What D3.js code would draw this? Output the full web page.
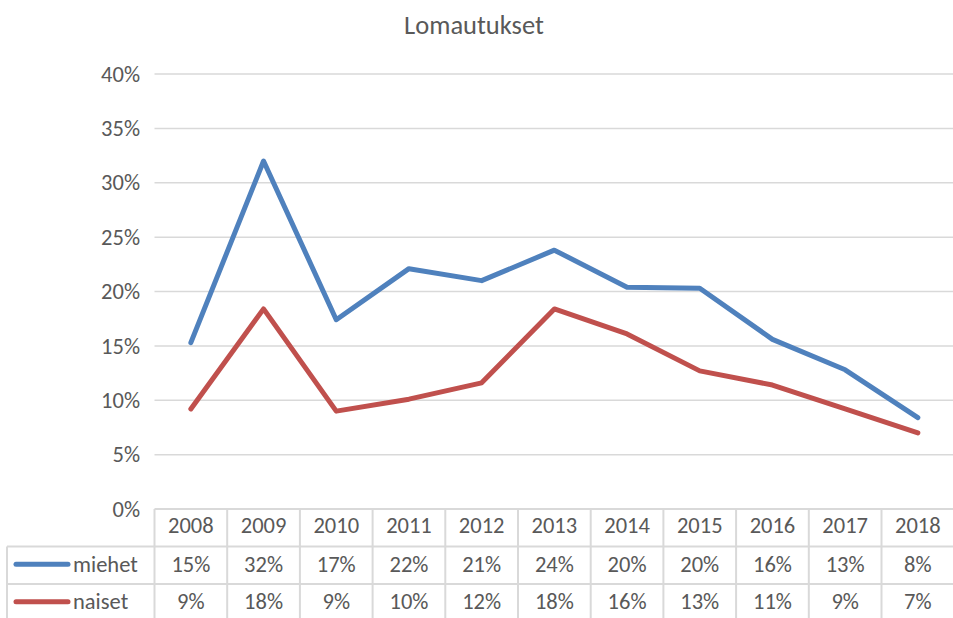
<!DOCTYPE html>
<html>
<head>
<meta charset="utf-8">
<script src="https://cdn.jsdelivr.net/npm/d3@7"></script>
<style>
  body { margin: 0; background: #fff; }
  text { font-family: Carlito, Calibri, Lato, sans-serif; fill: #595959; }
</style>
</head>
<body>
<svg></svg>
<script>
// data
let years = ['2008', '2009', '2010', '2011', '2012', '2013', '2014', '2015', '2016', '2017', '2018'];
let miehet = [15.3, 32.0, 17.4, 22.1, 21.0, 23.8, 20.4, 20.3, 15.6, 12.8, 8.4];
let naiset = [9.2, 18.4, 9.0, 10.1, 11.6, 18.4, 16.1, 12.7, 11.4, 9.2, 7.0];
let yTicks = [0, 5, 10, 15, 20, 25, 30, 35, 40];
let title = 'Lomautukset';

let series = [
  { name: 'miehet', values: miehet, color: '#4f81bd' },
  { name: 'naiset', values: naiset, color: '#c0504d' }
];

let config = { svg: { width: 953, height: 618 }, plot: {} };
config.plot.left = 154.5;
config.plot.step = 72.7;
config.plot.top = 74;
config.plot.bottom = 509;
config.table = { left: 7, rowH: 37.5, bottom: 640 };

let svg = d3.select('svg')
  .attr('width', config.svg.width)
  .attr('height', config.svg.height);

let x = d3.scaleBand()
  .domain(years)
  .range([config.plot.left, config.plot.left + config.plot.step * years.length]);

let y = d3.scaleLinear()
  .domain([0, 40])
  .range([config.plot.bottom, config.plot.top]);

let pct = d => d3.format('.0f')(d) + '%';

// title
svg.append('text')
  .attr('x', 474)
  .attr('y', 25)
  .attr('text-anchor', 'middle')
  .attr('dominant-baseline', 'central')
  .style('font-size', '26.5px')
  .text(title);

// gridlines
svg.append('g')
  .selectAll('line')
  .data(yTicks.filter(t => t > 0))
  .enter()
  .append('line')
    .attr('x1', x.range()[0])
    .attr('x2', x.range()[1])
    .attr('y1', d => y(d))
    .attr('y2', d => y(d))
    .attr('stroke', '#d9d9d9')
    .attr('stroke-width', 1.5);

// y axis labels
let yAxis = d3.axisLeft(y).tickValues(yTicks).tickFormat(d => d + '%').tickSize(0).tickPadding(0);
let gy = svg.append('g')
  .attr('transform', 'translate(' + 140 + ',0)')
  .call(yAxis);
gy.select('.domain').remove();
gy.selectAll('text')
  .style('font-size', '22.5px')
  .attr('fill', '#595959')
  .style('font-family', 'Carlito, Calibri, Lato, sans-serif');

// table grid
let tbl = svg.append('g');
let gridColor = '#d9d9d9';
let rowsY = [config.plot.bottom, config.plot.bottom + config.table.rowH, config.plot.bottom + 2 * config.table.rowH];
// horizontal lines
tbl.append('line')
  .attr('x1', x.range()[0]).attr('x2', x.range()[1])
  .attr('y1', rowsY[0]).attr('y2', rowsY[0])
  .attr('stroke', gridColor).attr('stroke-width', 2);
tbl.selectAll('.hl')
  .data(rowsY.slice(1))
  .enter()
  .append('line')
    .attr('x1', config.table.left).attr('x2', x.range()[1])
    .attr('y1', d => d).attr('y2', d => d)
    .attr('stroke', gridColor).attr('stroke-width', 2);
// vertical lines
tbl.selectAll('.vl')
  .data(years)
  .enter()
  .append('line')
    .attr('x1', d => x(d)).attr('x2', d => x(d))
    .attr('y1', rowsY[0]).attr('y2', config.table.bottom)
    .attr('stroke', gridColor).attr('stroke-width', 2);
tbl.append('line')
  .attr('x1', config.table.left).attr('x2', config.table.left)
  .attr('y1', rowsY[1]).attr('y2', config.table.bottom)
  .attr('stroke', gridColor).attr('stroke-width', 2);

// header row
tbl.selectAll('.hdr')
  .data(years)
  .enter()
  .append('text')
    .attr('x', d => x(d) + x.bandwidth() / 2)
    .attr('y', rowsY[0] + config.table.rowH / 2 - 2)
    .attr('text-anchor', 'middle')
    .attr('dominant-baseline', 'central')
    .style('font-size', '22.5px')
    .text(d => d);

// data rows with legend keys
series.forEach(function(s, i) {
  let cy = rowsY[i + 1] + config.table.rowH / 2 - 1;
  tbl.append('line')
    .attr('x1', 16).attr('x2', 68)
    .attr('y1', cy).attr('y2', cy)
    .attr('stroke', s.color)
    .attr('stroke-width', 5)
    .attr('stroke-linecap', 'round');
  tbl.append('text')
    .attr('x', 73)
    .attr('y', cy)
    .attr('dominant-baseline', 'central')
    .style('font-size', '22.5px')
    .text(s.name);
  tbl.selectAll('.v' + i)
    .data(s.values)
    .enter()
    .append('text')
      .attr('x', (d, j) => x(years[j]) + x.bandwidth() / 2)
      .attr('y', cy)
      .attr('text-anchor', 'middle')
      .attr('dominant-baseline', 'central')
      .style('font-size', '22.5px')
      .text(d => pct(d));
});

// lines
let line = d3.line()
  .x((d, j) => x(years[j]) + x.bandwidth() / 2)
  .y(d => y(d));

svg.append('g')
  .selectAll('path')
  .data(series)
  .enter()
  .append('path')
    .attr('fill', 'none')
    .attr('stroke', d => d.color)
    .attr('stroke-width', 5)
    .attr('stroke-linejoin', 'round')
    .attr('stroke-linecap', 'round')
    .attr('d', d => line(d.values));
</script>
</body>
</html>
